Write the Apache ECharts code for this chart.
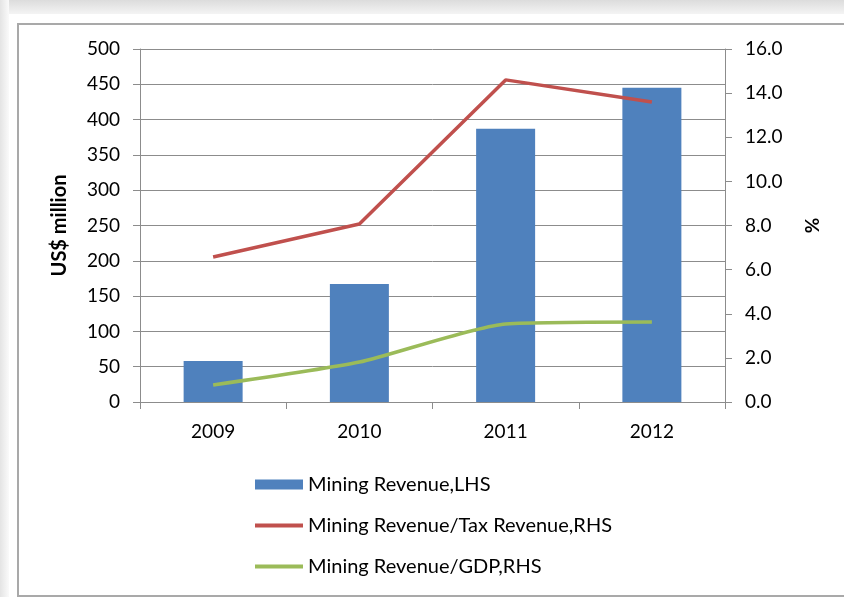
<!DOCTYPE html>
<html>
<head>
<meta charset="utf-8">
<script src="https://cdn.jsdelivr.net/npm/echarts@6/dist/echarts.min.js"></script>
<style>
  html, body { margin: 0; padding: 0; width: 844px; height: 597px; overflow: hidden; background: #fff; }
  #shadeTop { position: absolute; left: 0; top: 0; width: 844px; height: 14px; background: linear-gradient(#dcdcdc, #f4f4f4); }
  #shadeLeft { position: absolute; left: 0; top: 0; width: 9px; height: 597px; background: linear-gradient(90deg, #e4e4e4, #fafafa); }
  #card { position: absolute; left: 17px; top: 23px; width: 900px; height: 574px; border: 2px solid #a9a9a9; box-sizing: border-box; background: #fff; }
  #chart { position: absolute; left: 0; top: 0; width: 844px; height: 597px; }
</style>
</head>
<body>
<div id="shadeTop"></div>
<div id="shadeLeft"></div>
<div id="card"></div>
<div id="chart"></div>
<script>
const years = ['2009', '2010', '2011', '2012'];
const miningRevenue = [58, 167, 387, 445];
const taxShare = [6.57, 8.07, 14.6, 13.6];
const gdpShare = [0.77, 1.81, 3.54, 3.63];

const chart = echarts.init(document.getElementById('chart'));
const font = 'Lato, "Open Sans", sans-serif';
const axisGrey = '#8c8c8c';
const red = '#C0504D';
const green = '#9BBB59';

chart.setOption({
  animation: false,
  backgroundColor: 'transparent',
  textStyle: { fontFamily: font },
  grid: { left: 140, right: 119, top: 49, bottom: 195 },
  legend: {
    orient: 'vertical',
    left: 248,
    top: 469,
    itemWidth: 48,
    itemHeight: 10,
    itemGap: 20,
    textStyle: { fontFamily: font, fontSize: 20, color: '#000', lineHeight: 21 },
    data: [
      { name: 'Mining Revenue,LHS', icon: 'rect' },
      { name: 'Mining Revenue/Tax Revenue,RHS', itemStyle: { opacity: 0 }, lineStyle: { color: red, width: 4 } },
      { name: 'Mining Revenue/GDP,RHS', itemStyle: { opacity: 0 }, lineStyle: { color: green, width: 4 } }
    ]
  },
  xAxis: {
    type: 'category',
    data: years,
    axisLine: { lineStyle: { color: axisGrey, width: 1 } },
    axisTick: { show: true, length: 7, lineStyle: { color: axisGrey } },
    axisLabel: { color: '#000', fontSize: 19, margin: 20, fontFamily: font },
    splitLine: { show: false }
  },
  yAxis: [
    {
      type: 'value',
      min: 0,
      max: 500,
      interval: 50,
      name: 'US$ million',
      nameLocation: 'middle',
      nameRotate: 90,
      nameGap: 70,
      nameTextStyle: { fontSize: 20, fontWeight: 'bold', color: '#000', fontFamily: font },
      axisLine: { show: true, lineStyle: { color: axisGrey } },
      axisTick: { show: true, length: 7, lineStyle: { color: axisGrey } },
      axisLabel: { color: '#000', fontSize: 19, margin: 20, fontFamily: font },
      splitLine: { show: true, lineStyle: { color: axisGrey, width: 1 } }
    },
    {
      type: 'value',
      min: 0,
      max: 16,
      interval: 2,
      name: '%',
      nameLocation: 'middle',
      nameRotate: 90,
      nameGap: 78,
      nameTextStyle: { fontSize: 19, fontWeight: 'bold', color: '#000', fontFamily: font },
      axisLine: { show: true, lineStyle: { color: axisGrey } },
      axisTick: { show: true, length: 7, lineStyle: { color: axisGrey } },
      axisLabel: { color: '#000', fontSize: 19, margin: 20, fontFamily: font, formatter: v => v.toFixed(1) },
      splitLine: { show: false }
    }
  ],
  series: [
    {
      name: 'Mining Revenue,LHS',
      type: 'bar',
      data: miningRevenue,
      barWidth: 59,
      itemStyle: { color: '#4F81BD' }
    },
    {
      name: 'Mining Revenue/Tax Revenue,RHS',
      type: 'line',
      yAxisIndex: 1,
      data: taxShare,
      symbol: 'none',
      lineStyle: { color: red, width: 3.5 },
      itemStyle: { color: red }
    },
    {
      name: 'Mining Revenue/GDP,RHS',
      type: 'line',
      yAxisIndex: 1,
      data: gdpShare,
      symbol: 'none',
      smooth: 0.2,
      lineStyle: { color: green, width: 3.5 },
      itemStyle: { color: green }
    }
  ]
});
</script>
</body>
</html>
